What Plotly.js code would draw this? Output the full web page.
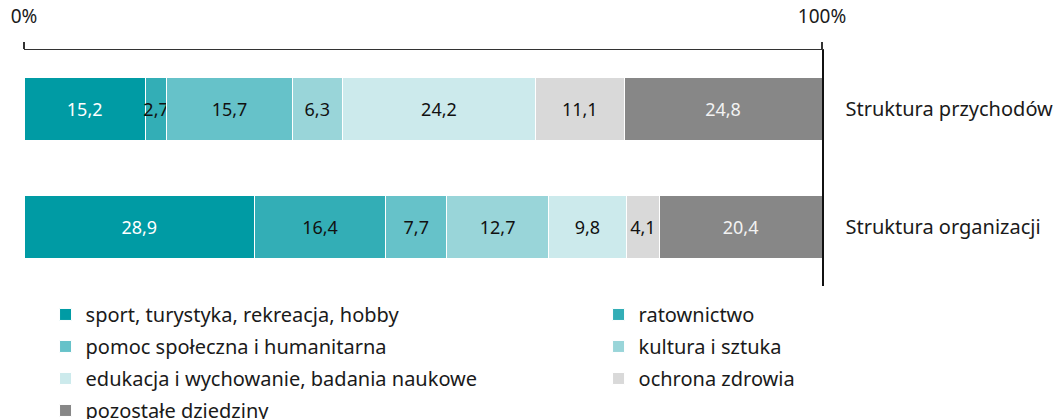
<!DOCTYPE html>
<html><head><meta charset="utf-8">
<script src="https://cdn.plot.ly/plotly-3.0.1.min.js"></script>
<style>html,body{margin:0;padding:0;background:#fff}</style>
</head><body><div id="chart" style="width:1059px;height:419px"></div>
<script>
const categories = ["Struktura przychodów", "Struktura organizacji"];
const seriesNames = ["sport, turystyka, rekreacja, hobby", "ratownictwo", "pomoc społeczna i humanitarna",
  "kultura i sztuka", "edukacja i wychowanie, badania naukowe", "ochrona zdrowia", "pozostałe dziedziny"];
const sport = [15.2, 28.9];
const ratownictwo = [2.7, 16.4];
const pomoc = [15.7, 7.7];
const kultura = [6.3, 12.7];
const edukacja = [24.2, 9.8];
const ochrona = [11.1, 4.1];
const pozostale = [24.8, 20.4];
const tickVals = [0, 100];
const tickText = ["0%", "100%"];

const seriesValues = [sport, ratownictwo, pomoc, kultura, edukacja, ochrona, pozostale];
const colors = ["#009ba4", "#33aeb6", "#66c2c9", "#99d5d9", "#cceaec", "#d9d9d9", "#878787"];
const textColors = ["#ffffff", "#111111", "#111111", "#111111", "#111111", "#111111", "#f2f2f2"];
const legendOf = ["legend", "legend2", "legend", "legend2", "legend", "legend2", "legend"];
const FONT = "Noto Sans, sans-serif";

const data = seriesValues.map((vals, i) => ({
  type: "bar", orientation: "h",
  name: seriesNames[i], x: vals, y: categories,
  marker: {color: colors[i], line: {color: "#ffffff", width: 1}},
  texttemplate: "%{x:.1f}", textposition: "inside", insidetextanchor: "middle",
  constraintext: "none", textangle: 0,
  insidetextfont: {family: FONT, size: 18, color: textColors[i]},
  legend: legendOf[i], legendgroup: "g" + i,
  hoverinfo: "name+x"
}));

const layout = {
  width: 1059, height: 419,
  margin: {l: 24, r: 237, t: 50, b: 133, autoexpand: false},
  barmode: "stack", bargap: 0.47,
  separators: ", ",
  font: {family: FONT, size: 20, color: "#1a1a1a"},
  paper_bgcolor: "#fff", plot_bgcolor: "#fff",
  xaxis: {side: "top", range: [0, 100], tickvals: tickVals, ticktext: tickText,
    showgrid: false, zeroline: false, showline: true, linecolor: "#333", linewidth: 1.5,
    ticks: "outside", ticklen: 7, tickwidth: 1.5, tickcolor: "#333", ticklabelstandoff: 11,
    tickfont: {size: 19}, fixedrange: true},
  yaxis: {type: "category", categoryarray: categories, range: [1.5, -0.5], side: "right",
    showline: true, linecolor: "#111", linewidth: 1.5, ticks: "", showgrid: false,
    zeroline: false, ticklabelstandoff: 18, tickfont: {size: 20}, fixedrange: true},
  showlegend: true,
  legend: {x: 0.027, y: -0.038, xanchor: "left", yanchor: "top", orientation: "v",
    traceorder: "grouped", tracegroupgap: 3, font: {size: 20}, bgcolor: "rgba(0,0,0,0)"},
  legend2: {x: 0.72, y: -0.038, xanchor: "left", yanchor: "top", orientation: "v",
    traceorder: "grouped", tracegroupgap: 3, font: {size: 20}, bgcolor: "rgba(0,0,0,0)"}
};
Plotly.newPlot("chart", data, layout, {displayModeBar: false, staticPlot: true});
</script></body></html>
